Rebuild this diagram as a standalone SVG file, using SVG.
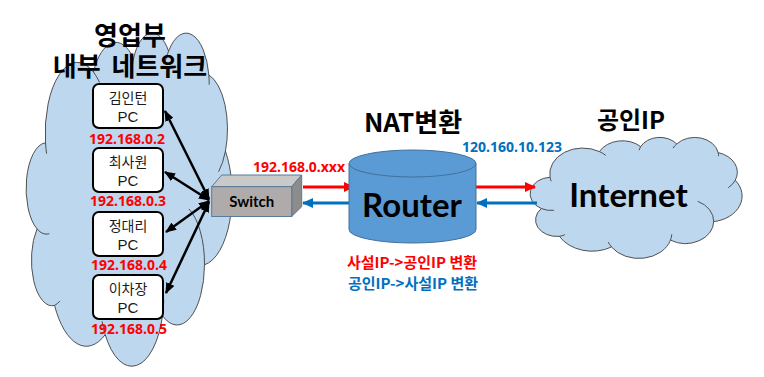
<svg xmlns="http://www.w3.org/2000/svg" width="764" height="377" viewBox="0 0 764 377">
<style>
.cloud{fill:#BDD7EE;stroke:#404040;stroke-width:0.9}
.crease{fill:none;stroke:#404040;stroke-width:0.9}
.pc{fill:#FFFFFF;stroke:#000000;stroke-width:2}
.pct{font-family:"Noto Sans CJK KR","Noto Sans",sans-serif;font-size:14px;fill:#1a1a1a;text-anchor:middle}
.pcl{font-family:"Liberation Sans",Arial,sans-serif;font-size:15px;fill:#1a1a1a;text-anchor:middle}
.ip{font-family:"Noto Sans","Noto Sans CJK KR",sans-serif;font-size:14px;font-weight:bold;fill:#FF0000;text-anchor:middle}
.title{font-family:"Noto Sans CJK KR",sans-serif;font-weight:bold;fill:#000000;text-anchor:middle}
.big{font-family:Lato,"Liberation Sans",sans-serif;font-weight:bold;fill:#000000;text-anchor:middle}
.lbl{font-family:"Noto Sans CJK KR",sans-serif;font-size:15px;font-weight:bold;text-anchor:middle}
.blk{stroke:#000000;stroke-width:2.5;fill:none}
.red{stroke:#FF0000;stroke-width:3;fill:none}
.blue{stroke:#0070C0;stroke-width:3;fill:none}
</style>
<defs>
<marker id="ab" markerUnits="userSpaceOnUse" markerWidth="11" markerHeight="9" refX="10" refY="4.5" orient="auto-start-reverse"><path d="M0,0 L11,4.5 L0,9 z" fill="#000000"/></marker>
<marker id="ar" markerUnits="userSpaceOnUse" markerWidth="11" markerHeight="10" refX="10" refY="5" orient="auto"><path d="M0,0 L11,5 L0,10 z" fill="#FF0000"/></marker>
<marker id="au" markerUnits="userSpaceOnUse" markerWidth="11" markerHeight="10" refX="10" refY="5" orient="auto"><path d="M0,0 L11,5 L0,10 z" fill="#0070C0"/></marker>
</defs>

<g id="lan-cloud">
<path class="cloud" vector-effect="non-scaling-stroke" transform="translate(27,32) scale(0.205,0.333)" d="M90.3,332.6 A156.3,212.7 0 0 1 324.2,120.4 A123.4,168.2 0 0 1 519.8,79.4 A101.0,137.6 0 0 1 690.6,57.4 A112.4,152.7 0 0 1 887.0,129.0 A123.4,168.4 0 0 1 968.0,357.8 A156.8,213.4 0 0 1 865.8,699.1 A133.9,182.1 0 0 1 661.0,852.2 A156.3,213.3 0 0 1 381.5,908.9 A178.7,244.0 0 0 1 134.4,821.1 A100.9,137.0 0 0 1 48.9,591.4 A100.6,137.6 0 0 1 90.3,332.6 Z"/>
<path class="crease" vector-effect="non-scaling-stroke" transform="translate(27,32) scale(0.205,0.333)" d="M108.6,605.9 A100.6,137.6 0 0 1 48.9,591.4 M160.4,807.9 A100.9,137.0 0 0 1 134.4,821.1 M381.5,908.9 A156.3,213.3 0 0 1 366.0,868.6 M667.3,804.4 A156.3,213.3 0 0 1 661.0,852.2 M790.0,531.3 A133.9,182.1 0 0 1 865.8,699.1 M968.0,357.8 A123.4,168.4 0 0 1 934.5,419.7 M887.0,129.0 A112.4,152.7 0 0 1 888.7,158.3 M673.1,91.5 A112.4,152.7 0 0 1 690.6,57.4 M512.5,109.3 A101.0,137.6 0 0 1 519.8,79.4 M324.2,120.4 A156.3,212.7 0 0 1 354.2,151.6 M95.5,365.5 A156.3,212.7 0 0 1 90.3,332.6"/>
<text class="title" font-size="26"><tspan x="130" y="45">영업부</tspan><tspan x="130" y="76" word-spacing="5">내부 네트워크</tspan></text>
</g>

<g id="internet">
<path class="cloud" vector-effect="non-scaling-stroke" transform="translate(531,137) scale(0.211,0.121)" d="M90.3,332.6 A156.3,212.7 0 0 1 324.2,120.4 A123.4,168.2 0 0 1 519.8,79.4 A101.0,137.6 0 0 1 690.6,57.4 A112.4,152.7 0 0 1 887.0,129.0 A123.4,168.4 0 0 1 968.0,357.8 A156.8,213.4 0 0 1 865.8,699.1 A133.9,182.1 0 0 1 661.0,852.2 A156.3,213.3 0 0 1 381.5,908.9 A178.7,244.0 0 0 1 134.4,821.1 A100.9,137.0 0 0 1 48.9,591.4 A100.6,137.6 0 0 1 90.3,332.6 Z"/>
<path class="crease" vector-effect="non-scaling-stroke" transform="translate(531,137) scale(0.211,0.121)" d="M108.6,605.9 A100.6,137.6 0 0 1 48.9,591.4 M160.4,807.9 A100.9,137.0 0 0 1 134.4,821.1 M381.5,908.9 A156.3,213.3 0 0 1 366.0,868.6 M667.3,804.4 A156.3,213.3 0 0 1 661.0,852.2 M790.0,531.3 A133.9,182.1 0 0 1 865.8,699.1 M968.0,357.8 A123.4,168.4 0 0 1 934.5,419.7 M887.0,129.0 A112.4,152.7 0 0 1 888.7,158.3 M673.1,91.5 A112.4,152.7 0 0 1 690.6,57.4 M512.5,109.3 A101.0,137.6 0 0 1 519.8,79.4 M324.2,120.4 A156.3,212.7 0 0 1 354.2,151.6 M95.5,365.5 A156.3,212.7 0 0 1 90.3,332.6"/>
<text class="big" x="628.5" y="207" font-size="33">Internet</text>
<text class="title" x="631" y="129" font-size="24">공인IP</text>
</g>

<g id="pc1">
<rect class="pc" x="93" y="84" width="70" height="44" rx="6"/>
<text class="pct" x="128" y="103">김인턴</text>
<text class="pcl" x="128" y="122">PC</text>
<text class="ip" x="127" y="144">192.168.0.2</text>
</g>
<g id="pc2">
<rect class="pc" x="93" y="148" width="70" height="44" rx="6"/>
<text class="pct" x="128" y="167">최사원</text>
<text class="pcl" x="128" y="186">PC</text>
<text class="ip" x="128" y="206">192.168.0.3</text>
</g>
<g id="pc3">
<rect class="pc" x="93" y="212" width="70" height="44" rx="6"/>
<text class="pct" x="128" y="231">정대리</text>
<text class="pcl" x="128" y="250">PC</text>
<text class="ip" x="129" y="270">192.168.0.4</text>
</g>
<g id="pc4">
<rect class="pc" x="93" y="275" width="70" height="44" rx="6"/>
<text class="pct" x="128" y="294">이차장</text>
<text class="pcl" x="128" y="313">PC</text>
<text class="ip" x="129" y="334">192.168.0.5</text>
</g>

<g id="connectors">
<line class="blk" x1="209" y1="199" x2="165" y2="111" marker-start="url(#ab)" marker-end="url(#ab)"/>
<line class="blk" x1="209" y1="200" x2="165" y2="172" marker-start="url(#ab)" marker-end="url(#ab)"/>
<line class="blk" x1="209" y1="201" x2="166" y2="232" marker-start="url(#ab)" marker-end="url(#ab)"/>
<line class="blk" x1="209" y1="202" x2="166" y2="293" marker-start="url(#ab)" marker-end="url(#ab)"/>
<line class="red" x1="303" y1="187" x2="354" y2="187" marker-end="url(#ar)"/>
<line class="blue" x1="349" y1="203" x2="303" y2="203" marker-end="url(#au)"/>
<line class="red" x1="476" y1="187" x2="535" y2="187" marker-end="url(#ar)"/>
<line class="blue" x1="537" y1="203" x2="477" y2="203" marker-end="url(#au)"/>
</g>

<g id="switch">
<polygon points="211.7,186.7 221.7,175 301.7,175 291.7,186.7" fill="#C9C9C9" stroke="#5A7A9A" stroke-width="1"/>
<polygon points="291.7,186.7 301.7,175 301.7,206.7 291.7,216.5" fill="#8C8C8C" stroke="#5A7A9A" stroke-width="1"/>
<rect x="211.7" y="186.7" width="80" height="29.8" fill="#AFABAB" stroke="#5A7A9A" stroke-width="1"/>
<text class="big" x="251.7" y="207" font-size="15" fill="#1a1a1a">Switch</text>
</g>

<g id="router">
<path d="M349,163.5 L349,229.5 A63.5,13.5 0 0 0 476,229.5 L476,163.5 Z" fill="#5B9BD5" stroke="#41719C" stroke-width="1"/>
<ellipse cx="412.5" cy="163.5" rx="63.5" ry="13.5" fill="#5B9BD5" stroke="#41719C" stroke-width="1"/>
<text class="big" x="412" y="217" font-size="33">Router</text>
<text class="title" x="413" y="132" font-size="26">NAT변환</text>
<text class="lbl" x="412" y="268" fill="#FF0000">사설IP-&gt;공인IP 변환</text>
<text class="lbl" x="413" y="289" fill="#0070C0">공인IP-&gt;사설IP 변환</text>
</g>

<g id="labels">
<text class="ip" x="299" y="172">192.168.0.xxx</text>
<text class="ip" x="512" y="152" style="fill:#0070C0">120.160.10.123</text>
</g>
</svg>
